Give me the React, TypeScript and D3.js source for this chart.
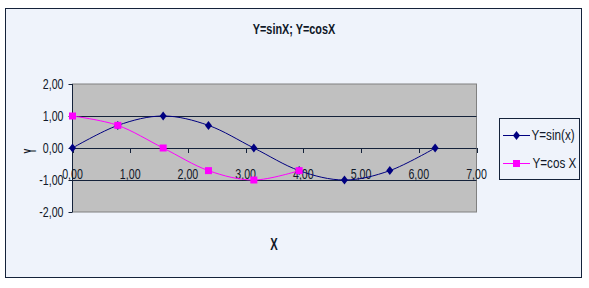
import React from "react";
import * as d3 from "d3";

const xValues = [0, 0.785, 1.571, 2.356, 3.142, 3.927, 4.712, 5.498, 6.283];
const sinValues = [0, 0.707, 1, 0.707, 0, -0.707, -1, -0.707, 0];
const cosValues = [1, 0.707, 0, -0.707, -1, -0.707];
const xTicks = [0, 1, 2, 3, 4, 5, 6, 7];
const yTicks = [-2, -1, 0, 1, 2];
const seriesNames = ["Y=sin(x)", "Y=cos X"];
const title = "Y=sinX; Y=cosX";

const W = 589;
const H = 288;
const plot = { left: 72.5, right: 476.5, top: 84, bottom: 212 };
const FONT = "'Liberation Sans', Arial, sans-serif";
const axisColor = "#14223a";
const textColor = "#101828";

const fmt = (v: number) => v.toFixed(2).replace(".", ",");

function T({ x, y, children, size = 14, weight = "normal", anchor = "start", fill = textColor, rotate = 0, sx = 0.76 }: any) {
  return (
    <g transform={`translate(${x},${y}) rotate(${rotate}) scale(${sx},1)`}>
      <text x={0} y={0} fontSize={size} fontWeight={weight} textAnchor={anchor} fill={fill} fontFamily={FONT}>
        {children}
      </text>
    </g>
  );
}

function Diamond({ x, y, color }: any) {
  return <path d={`M${x},${y - 4.5} L${x + 3.5},${y} L${x},${y + 4.5} L${x - 3.5},${y} Z`} fill={color} />;
}
function Square({ x, y, color }: any) {
  return <rect x={x - 3.5} y={y - 3.5} width={7} height={7} fill={color} />;
}

export default function App() {
  const x = d3.scaleLinear().domain([0, 7]).range([plot.left, plot.right]);
  const y = d3.scaleLinear().domain([-2, 2]).range([plot.bottom, plot.top]);
  const line = d3
    .line<[number, number]>()
    .x((d) => x(d[0]))
    .y((d) => y(d[1]))
    .curve(d3.curveCatmullRom.alpha(0));
  const sinPts: [number, number][] = sinValues.map((v, i) => [xValues[i], v]);
  const cosPts: [number, number][] = cosValues.map((v, i) => [xValues[i], v]);
  const sinColor = "#000080";
  const cosColor = "#ff00ff";

  return (
    <svg width={W} height={H} style={{ position: "absolute", left: 0, top: 0 }}>
      <rect x={0} y={0} width={W} height={H} fill="#ffffff" />
      <rect x={5.5} y={8.5} width={576} height={269} fill="#eff3fb" stroke={axisColor} strokeWidth={1} />
      <T x={294} y={34} size={14.5} weight="bold" anchor="middle" sx={0.75}>{title}</T>

      <rect x={plot.left} y={plot.top} width={plot.right - plot.left} height={plot.bottom - plot.top} fill="#c0c0c0" stroke="#808080" strokeWidth={1} />
      {yTicks.filter((t) => t !== -2 && t !== 2).map((t) => (
        <line key={t} x1={plot.left} x2={plot.right} y1={Math.round(y(t)) + 0.5} y2={Math.round(y(t)) + 0.5} stroke={axisColor} strokeWidth={1} />
      ))}
      <line x1={plot.left} x2={plot.left} y1={plot.top} y2={plot.bottom} stroke={axisColor} strokeWidth={1} />
      {yTicks.map((t) => (
        <g key={t}>
          <line x1={plot.left - 4} x2={plot.left} y1={Math.round(y(t)) + 0.5} y2={Math.round(y(t)) + 0.5} stroke={axisColor} />
          <T x={63.5} y={y(t) + 5} anchor="end">{fmt(t)}</T>
        </g>
      ))}
      {xTicks.map((t) => (
        <g key={t}>
          <line x1={Math.round(x(t)) + 0.5} x2={Math.round(x(t)) + 0.5} y1={y(0)} y2={y(0) + 5} stroke={axisColor} />
          <T x={x(t)} y={179} anchor="middle">{fmt(t)}</T>
        </g>
      ))}

      <path d={line(sinPts) || ""} fill="none" stroke={sinColor} strokeWidth={1} />
      <path d={line(cosPts) || ""} fill="none" stroke={cosColor} strokeWidth={1} />
      {sinPts.map((p, i) => <Diamond key={i} x={x(p[0])} y={y(p[1])} color={sinColor} />)}
      {cosPts.map((p, i) => <Square key={i} x={x(p[0])} y={y(p[1])} color={cosColor} />)}

      <T x={35.5} y={151} size={16} weight="bold" anchor="middle" rotate={-90} sx={0.45}>Y</T>
      <T x={274} y={250} size={16} weight="bold" anchor="middle" sx={0.7}>X</T>

      <rect x={499.5} y={118.5} width={80} height={61} fill="#eff3fb" stroke={axisColor} strokeWidth={1} />
      <line x1={503} x2={530} y1={135.5} y2={135.5} stroke={sinColor} />
      <Diamond x={516.5} y={135.5} color={sinColor} />
      <T x={531.5} y={140} size={15} sx={0.78}>{seriesNames[0]}</T>
      <line x1={503} x2={530} y1={163.5} y2={163.5} stroke={cosColor} />
      <Square x={516.5} y={163.5} color={cosColor} />
      <T x={532.5} y={168} size={15} sx={0.78}>{seriesNames[1]}</T>
    </svg>
  );
}
